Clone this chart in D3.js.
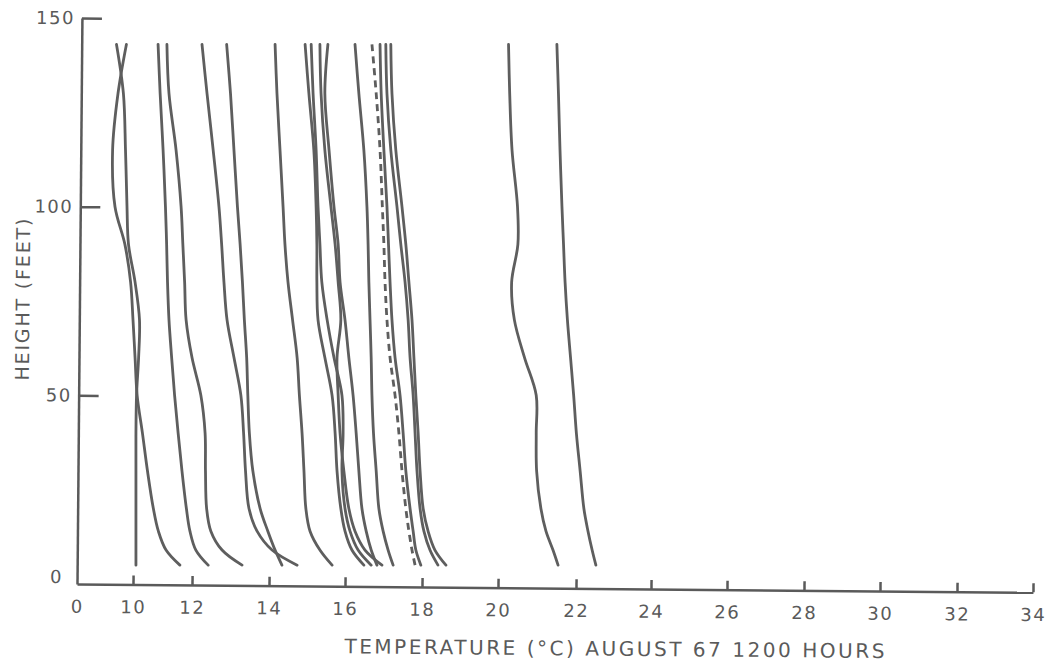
<!DOCTYPE html>
<html lang="en">
<head>
<meta charset="utf-8">
<title>Temperature profiles, August 67, 1200 hours</title>
<script src="https://cdn.jsdelivr.net/npm/d3@7"></script>
<style>
    body { margin: 0; background: #fff; }
    svg text { font-family: "DejaVu Sans", sans-serif; fill: #5a5a5a; }
    .axis path, .axis line { stroke: #5a5a5a; stroke-width: 2.5; }
    .profile { fill: none; stroke: #5e5e5e; stroke-width: 2.8; stroke-linecap: round; }
</style>
</head>
<body>
<script>
// heights (feet) at which every profile was read
var heights = [143, 130, 115, 100, 90, 80, 70, 60, 50, 40, 30, 20, 14, 9, 5];

// temperatures (deg C) for each sounding, top to bottom
var run01 = [9.45, 9.68, 9.75, 9.80, 9.85, 10.07, 10.22, 10.19, 10.12, 10.10, 10.10, 10.10, 10.10, 10.10, 10.10];
var run02 = [9.78, 9.50, 9.32, 9.40, 9.73, 9.92, 10.00, 10.07, 10.14, 10.32, 10.49, 10.69, 10.86, 11.12, 11.59];
var run03 = [10.85, 10.92, 11.02, 11.10, 11.14, 11.17, 11.22, 11.31, 11.41, 11.53, 11.66, 11.81, 11.93, 12.10, 12.42];
var run04 = [11.15, 11.22, 11.46, 11.63, 11.69, 11.75, 11.80, 12.00, 12.23, 12.34, 12.35, 12.38, 12.49, 12.78, 13.30];
var run05 = [12.26, 12.39, 12.55, 12.70, 12.77, 12.83, 12.91, 13.09, 13.27, 13.34, 13.39, 13.48, 13.69, 14.08, 14.74];
var run06 = [12.90, 13.00, 13.09, 13.18, 13.25, 13.31, 13.36, 13.42, 13.45, 13.49, 13.58, 13.77, 13.97, 14.16, 14.34];
var run07 = [14.16, 14.21, 14.29, 14.37, 14.42, 14.50, 14.62, 14.74, 14.80, 14.87, 14.92, 14.97, 15.08, 15.34, 15.66];
var run08 = [14.95, 15.05, 15.18, 15.24, 15.26, 15.26, 15.29, 15.47, 15.66, 15.74, 15.79, 15.89, 16.00, 16.18, 16.49];
var run09 = [15.11, 15.16, 15.24, 15.29, 15.34, 15.39, 15.53, 15.71, 15.92, 15.95, 15.92, 16.00, 16.13, 16.34, 16.68];
var run10 = [15.34, 15.37, 15.47, 15.63, 15.74, 15.82, 15.89, 15.79, 15.82, 15.87, 15.97, 16.10, 16.26, 16.52, 16.96];
var run11 = [15.55, 15.47, 15.58, 15.71, 15.82, 15.87, 16.00, 16.10, 16.21, 16.29, 16.36, 16.44, 16.55, 16.68, 16.83];
var run12 = [16.26, 16.36, 16.49, 16.57, 16.60, 16.62, 16.65, 16.68, 16.70, 16.74, 16.81, 16.88, 16.99, 17.12, 17.25];
var run13 = [16.91, 16.94, 17.01, 17.09, 17.13, 17.17, 17.22, 17.30, 17.43, 17.51, 17.58, 17.69, 17.77, 17.84, 17.97];
var run14 = [17.06, 17.09, 17.19, 17.35, 17.45, 17.56, 17.64, 17.69, 17.77, 17.82, 17.87, 17.95, 18.05, 18.21, 18.42];
var run15 = [17.19, 17.22, 17.32, 17.48, 17.58, 17.66, 17.74, 17.79, 17.84, 17.90, 17.95, 18.03, 18.16, 18.34, 18.63];
var run16 = [20.27, 20.30, 20.36, 20.50, 20.51, 20.35, 20.42, 20.68, 20.98, 20.98, 20.99, 21.10, 21.23, 21.41, 21.54];
var run17 = [21.51, 21.55, 21.59, 21.64, 21.68, 21.72, 21.78, 21.86, 21.94, 22.01, 22.11, 22.21, 22.32, 22.43, 22.53];
// the one drawn dashed
var runDashed = [16.70, 16.81, 16.91, 16.97, 17.01, 17.04, 17.09, 17.17, 17.30, 17.40, 17.48, 17.58, 17.66, 17.74, 17.82];

var tempTicks = [0, 10, 12, 14, 16, 18, 20, 22, 24, 26, 28, 30, 32, 34];
var heightTicks = [0, 50, 100, 150];

var w = 1063;
var h = 666;

var svg = d3.select("body").append("svg")
    .attr("width", w)
    .attr("height", h);

// hand drawn axis: 0 sits at the corner, 10 and 12 are squeezed together
var x = d3.scaleLinear()
    .domain([0, 9, 10, 12, 14, 16, 18, 20, 22, 24, 26, 28, 30, 32, 34])
    .range([77, 103, 133, 192, 269, 345, 422, 498, 576, 651, 727, 804, 880, 957, 1033]);

var y = d3.scaleLinear()
    .domain([0, 150])
    .range([584, 18]);

// the scanned sheet is a little twisted, so the frame is turned by half a degree
var frame = svg.append("g")
    .attr("transform", "rotate(0.5, 77, 584)");

var xAxis = frame.append("g")
    .attr("class", "axis")
    .attr("transform", "translate(0," + y(0) + ")")
    .call(d3.axisBottom(x).tickValues(tempTicks).tickSizeInner(-9).tickSizeOuter(0).tickPadding(16));

var yAxis = frame.append("g")
    .attr("class", "axis")
    .attr("transform", "translate(" + x(0) + ",0)")
    .call(d3.axisLeft(y).tickValues(heightTicks).tickSizeInner(-20).tickSizeOuter(0).tickPadding(7));

frame.selectAll(".axis text")
    .style("font-size", "18px")
    .style("letter-spacing", "1.5px")
    .style("font-family", "DejaVu Sans, sans-serif")
    .style("fill", "#5a5a5a");

// no tick marks in the corner
xAxis.selectAll(".tick").filter(function(d){ return d === 0; }).select("line").remove();
yAxis.selectAll(".tick").filter(function(d){ return d === 0; }).select("line").remove();
yAxis.selectAll(".tick").filter(function(d){ return d === 0; }).select("text")
    .attr("x", -14)
    .attr("y", -7);

frame.append("text")
    .attr("x", 345)
    .attr("y", 651)
    .style("font-size", "20px")
    .attr("textLength", 540)
    .attr("lengthAdjust", "spacing")
    .text("TEMPERATURE (°C) AUGUST 67 1200 HOURS");

frame.append("text")
    .attr("transform", "translate(27,300) rotate(-90)")
    .attr("text-anchor", "middle")
    .style("font-size", "19px")
    .attr("textLength", 162)
    .attr("lengthAdjust", "spacing")
    .text("HEIGHT (FEET)");

// profiles
var profiles = [run01, run02, run03, run04, run05, run06, run07, run08, run09,
                run10, run11, run12, run13, run14, run15, run16, run17];

var line = d3.line()
    .x(function(d){ return x(d); })
    .y(function(d, i){ return y(heights[i]); })
    .curve(d3.curveCatmullRom.alpha(0.5));

svg.selectAll("path.profile")
    .data(profiles)
    .enter()
    .append("path")
    .attr("class", "profile")
    .attr("d", line);

svg.append("path")
    .datum(runDashed)
    .attr("class", "profile")
    .attr("stroke-dasharray", "7,5")
    .style("stroke-linecap", "butt")
    .attr("d", line);
</script>
</body>
</html>
